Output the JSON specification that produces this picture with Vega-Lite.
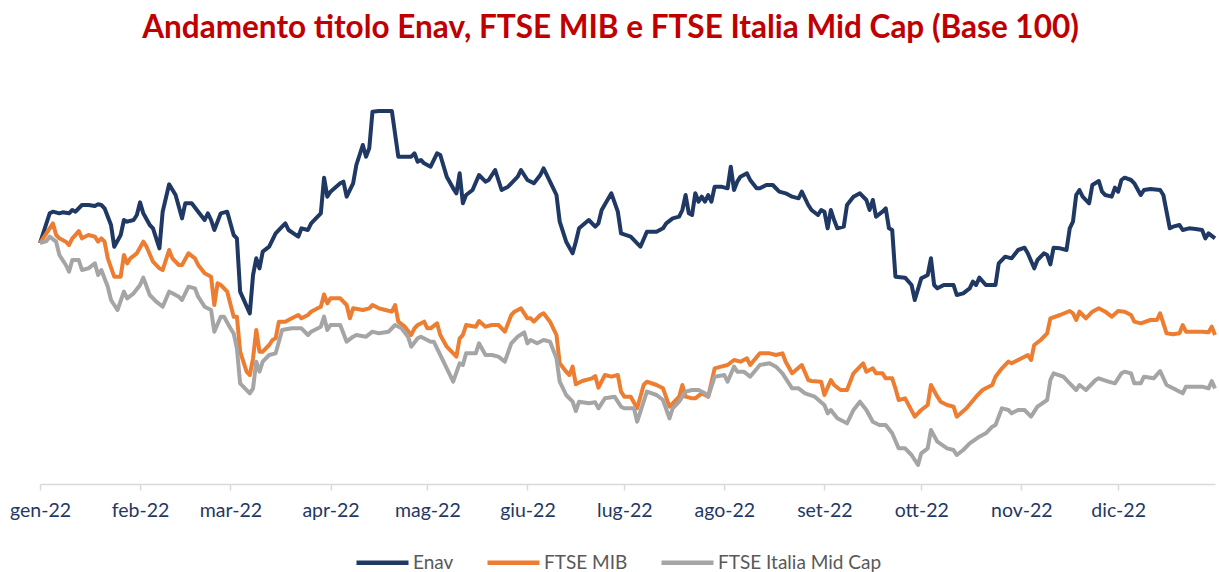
{
  "$schema": "https://vega.github.io/schema/vega-lite/v6.json",
  "width": 1175,
  "height": 390,
  "autosize": {"type": "none"},
  "padding": {"left": 40, "top": 94, "right": 4, "bottom": 88},
  "background": "white",
  "config": {"view": {"stroke": null}},
  "title": {
    "text": "Andamento titolo Enav, FTSE MIB e FTSE Italia Mid Cap (Base 100)",
    "color": "#C00000",
    "font": "Lato",
    "fontSize": 31.5,
    "fontWeight": "bold",
    "anchor": "middle",
    "dx": -17,
    "offset": 50
  },
  "datasets": {
    "enav": [
      {"date":"2022-01-01","value":100},{"date":"2022-01-04","value":104.45},{"date":"2022-01-05","value":104.7},{"date":"2022-01-07","value":104.45},{"date":"2022-01-08","value":104.6},{"date":"2022-01-10","value":104.45},{"date":"2022-01-11","value":104.95},{"date":"2022-01-12","value":104.7},{"date":"2022-01-14","value":105.7},{"date":"2022-01-16","value":105.7},{"date":"2022-01-18","value":105.55},{"date":"2022-01-19","value":105.8},{"date":"2022-01-20","value":105.7},{"date":"2022-01-21","value":105.2},{"date":"2022-01-23","value":102.7},{"date":"2022-01-24","value":99.45},{"date":"2022-01-26","value":101.2},{"date":"2022-01-27","value":103.45},{"date":"2022-01-28","value":103.2},{"date":"2022-01-30","value":103.45},{"date":"2022-01-31","value":104.2},
      {"date":"2022-02-01","value":106.1},{"date":"2022-02-02","value":104.45},{"date":"2022-02-04","value":102.7},{"date":"2022-02-05","value":102.2},{"date":"2022-02-07","value":99.2},{"date":"2022-02-08","value":104.7},{"date":"2022-02-10","value":108.8},{"date":"2022-02-12","value":107.2},{"date":"2022-02-14","value":103.7},{"date":"2022-02-15","value":105.95},{"date":"2022-02-17","value":105.95},{"date":"2022-02-19","value":104.7},{"date":"2022-02-21","value":103.45},{"date":"2022-02-22","value":104.45},{"date":"2022-02-23","value":103.45},{"date":"2022-02-24","value":101.95},{"date":"2022-02-26","value":104.45},{"date":"2022-02-28","value":104.7},
      {"date":"2022-03-02","value":101.2},{"date":"2022-03-03","value":100.7},{"date":"2022-03-04","value":92.7},{"date":"2022-03-07","value":89.45},{"date":"2022-03-08","value":95.2},{"date":"2022-03-09","value":97.7},{"date":"2022-03-10","value":96.2},{"date":"2022-03-11","value":98.7},{"date":"2022-03-13","value":99.45},{"date":"2022-03-15","value":101.45},{"date":"2022-03-17","value":102.45},{"date":"2022-03-18","value":102.95},{"date":"2022-03-19","value":101.95},{"date":"2022-03-22","value":100.95},{"date":"2022-03-23","value":102.2},{"date":"2022-03-25","value":101.95},{"date":"2022-03-26","value":102.95},{"date":"2022-03-28","value":103.95},{"date":"2022-03-29","value":104.45},{"date":"2022-03-30","value":109.8},{"date":"2022-03-31","value":106.95},
      {"date":"2022-04-01","value":107.7},{"date":"2022-04-04","value":108.95},{"date":"2022-04-05","value":109.2},{"date":"2022-04-06","value":106.95},{"date":"2022-04-08","value":108.95},{"date":"2022-04-09","value":111.7},{"date":"2022-04-11","value":114.7},{"date":"2022-04-12","value":112.95},{"date":"2022-04-13","value":114.2},{"date":"2022-04-14","value":119.7},{"date":"2022-04-16","value":119.8},{"date":"2022-04-20","value":119.8},{"date":"2022-04-22","value":112.95},{"date":"2022-04-24","value":112.95},{"date":"2022-04-26","value":112.95},{"date":"2022-04-27","value":113.45},{"date":"2022-04-28","value":112.2},{"date":"2022-04-29","value":112.45},{"date":"2022-04-30","value":111.95},
      {"date":"2022-05-02","value":111.45},{"date":"2022-05-04","value":113.45},{"date":"2022-05-05","value":113.2},{"date":"2022-05-07","value":109.95},{"date":"2022-05-09","value":108.2},{"date":"2022-05-10","value":107.45},{"date":"2022-05-11","value":110.45},{"date":"2022-05-12","value":105.95},{"date":"2022-05-13","value":107.2},{"date":"2022-05-15","value":107.95},{"date":"2022-05-17","value":110.2},{"date":"2022-05-19","value":109.2},{"date":"2022-05-20","value":109.45},{"date":"2022-05-22","value":110.95},{"date":"2022-05-24","value":107.95},{"date":"2022-05-26","value":108.45},{"date":"2022-05-27","value":108.95},{"date":"2022-05-29","value":109.95},{"date":"2022-05-30","value":110.95},
      {"date":"2022-06-01","value":109.45},{"date":"2022-06-03","value":108.95},{"date":"2022-06-05","value":110.2},{"date":"2022-06-06","value":111.2},{"date":"2022-06-08","value":109.2},{"date":"2022-06-10","value":107.2},{"date":"2022-06-11","value":103.2},{"date":"2022-06-13","value":100.2},{"date":"2022-06-15","value":98.45},{"date":"2022-06-16","value":100.2},{"date":"2022-06-17","value":102.2},{"date":"2022-06-20","value":103.45},{"date":"2022-06-22","value":102.45},{"date":"2022-06-23","value":102.95},{"date":"2022-06-24","value":104.95},{"date":"2022-06-27","value":107.45},{"date":"2022-06-29","value":104.7},{"date":"2022-06-30","value":101.45},
      {"date":"2022-07-03","value":100.95},{"date":"2022-07-05","value":99.95},{"date":"2022-07-06","value":99.45},{"date":"2022-07-08","value":101.7},{"date":"2022-07-11","value":101.7},{"date":"2022-07-13","value":102.2},{"date":"2022-07-14","value":102.95},{"date":"2022-07-16","value":103.7},{"date":"2022-07-18","value":103.95},{"date":"2022-07-19","value":104.95},{"date":"2022-07-20","value":107.2},{"date":"2022-07-21","value":104.45},{"date":"2022-07-22","value":104.2},{"date":"2022-07-23","value":107.45},{"date":"2022-07-24","value":106.2},{"date":"2022-07-25","value":106.95},{"date":"2022-07-26","value":106.2},{"date":"2022-07-27","value":107.2},{"date":"2022-07-28","value":106.2},{"date":"2022-07-29","value":108.45},{"date":"2022-07-31","value":108.45},
      {"date":"2022-08-02","value":108.2},{"date":"2022-08-03","value":111.45},{"date":"2022-08-04","value":107.95},{"date":"2022-08-05","value":109.2},{"date":"2022-08-06","value":109.95},{"date":"2022-08-08","value":110.45},{"date":"2022-08-09","value":109.45},{"date":"2022-08-11","value":108.2},{"date":"2022-08-12","value":108.2},{"date":"2022-08-14","value":108.7},{"date":"2022-08-16","value":108.7},{"date":"2022-08-18","value":107.7},{"date":"2022-08-20","value":107.45},{"date":"2022-08-22","value":106.95},{"date":"2022-08-24","value":106.7},{"date":"2022-08-25","value":107.7},{"date":"2022-08-27","value":105.7},{"date":"2022-08-28","value":104.95},{"date":"2022-08-30","value":104.2},{"date":"2022-08-31","value":104.95},
      {"date":"2022-09-01","value":104.7},{"date":"2022-09-02","value":102.2},{"date":"2022-09-03","value":104.95},{"date":"2022-09-04","value":103.45},{"date":"2022-09-05","value":102.2},{"date":"2022-09-07","value":102.45},{"date":"2022-09-08","value":105.7},{"date":"2022-09-10","value":106.95},{"date":"2022-09-12","value":107.45},{"date":"2022-09-14","value":106.45},{"date":"2022-09-15","value":104.95},{"date":"2022-09-16","value":106.45},{"date":"2022-09-17","value":103.95},{"date":"2022-09-19","value":104.7},{"date":"2022-09-20","value":105.2},{"date":"2022-09-21","value":102.2},{"date":"2022-09-22","value":101.95},{"date":"2022-09-23","value":94.95},{"date":"2022-09-26","value":94.8},{"date":"2022-09-28","value":93.7},{"date":"2022-09-29","value":91.45},
      {"date":"2022-10-01","value":94.7},{"date":"2022-10-02","value":94.95},{"date":"2022-10-03","value":95.2},{"date":"2022-10-04","value":97.7},{"date":"2022-10-05","value":93.7},{"date":"2022-10-06","value":93.2},{"date":"2022-10-08","value":93.7},{"date":"2022-10-11","value":93.7},{"date":"2022-10-12","value":92.2},{"date":"2022-10-14","value":92.45},{"date":"2022-10-16","value":93.2},{"date":"2022-10-17","value":94.2},{"date":"2022-10-18","value":93.7},{"date":"2022-10-19","value":94.8},{"date":"2022-10-21","value":93.7},{"date":"2022-10-24","value":93.7},{"date":"2022-10-25","value":96.95},{"date":"2022-10-27","value":97.95},{"date":"2022-10-29","value":97.7},{"date":"2022-10-31","value":98.95},
      {"date":"2022-11-02","value":99.3},{"date":"2022-11-03","value":98.45},{"date":"2022-11-05","value":96.2},{"date":"2022-11-06","value":97.45},{"date":"2022-11-08","value":98.45},{"date":"2022-11-09","value":98.2},{"date":"2022-11-10","value":96.8},{"date":"2022-11-11","value":99.3},{"date":"2022-11-13","value":99.2},{"date":"2022-11-15","value":98.95},{"date":"2022-11-16","value":102.2},{"date":"2022-11-17","value":103.2},{"date":"2022-11-18","value":107.2},{"date":"2022-11-19","value":107.95},{"date":"2022-11-20","value":106.95},{"date":"2022-11-22","value":105.95},{"date":"2022-11-23","value":108.7},{"date":"2022-11-25","value":109.3},{"date":"2022-11-26","value":107.7},{"date":"2022-11-27","value":107.2},{"date":"2022-11-29","value":106.95},{"date":"2022-11-30","value":108.3},
      {"date":"2022-12-01","value":107.7},{"date":"2022-12-02","value":109.45},{"date":"2022-12-03","value":109.8},{"date":"2022-12-05","value":109.45},{"date":"2022-12-06","value":108.95},{"date":"2022-12-08","value":107.2},{"date":"2022-12-09","value":107.95},{"date":"2022-12-11","value":108.1},{"date":"2022-12-14","value":107.95},{"date":"2022-12-15","value":107.2},{"date":"2022-12-17","value":102.2},{"date":"2022-12-18","value":102.45},{"date":"2022-12-20","value":102.7},{"date":"2022-12-21","value":101.95},{"date":"2022-12-23","value":102.2},{"date":"2022-12-25","value":102.1},{"date":"2022-12-27","value":101.95},{"date":"2022-12-28","value":100.7},{"date":"2022-12-29","value":101.45},{"date":"2022-12-31","value":100.7}
    ],
    "mib": [
      {"date":"2022-01-01","value":100},{"date":"2022-01-03","value":101.45},{"date":"2022-01-05","value":102.95},{"date":"2022-01-06","value":101.2},{"date":"2022-01-07","value":100.7},{"date":"2022-01-09","value":100.2},{"date":"2022-01-10","value":99.7},{"date":"2022-01-11","value":100.7},{"date":"2022-01-12","value":101.2},{"date":"2022-01-13","value":101.8},{"date":"2022-01-14","value":100.7},{"date":"2022-01-16","value":101.2},{"date":"2022-01-18","value":100.95},{"date":"2022-01-19","value":100.2},{"date":"2022-01-20","value":100.7},{"date":"2022-01-21","value":100.2},{"date":"2022-01-22","value":97.7},{"date":"2022-01-24","value":94.95},{"date":"2022-01-26","value":94.95},{"date":"2022-01-27","value":98.2},{"date":"2022-01-28","value":96.95},{"date":"2022-01-29","value":97.7},{"date":"2022-01-31","value":98.45},
      {"date":"2022-02-02","value":100.2},{"date":"2022-02-03","value":99.45},{"date":"2022-02-05","value":97.2},{"date":"2022-02-07","value":96.2},{"date":"2022-02-08","value":95.95},{"date":"2022-02-10","value":98.95},{"date":"2022-02-11","value":97.7},{"date":"2022-02-13","value":96.7},{"date":"2022-02-14","value":96.7},{"date":"2022-02-16","value":98.45},{"date":"2022-02-18","value":97.7},{"date":"2022-02-19","value":96.7},{"date":"2022-02-21","value":95.45},{"date":"2022-02-23","value":94.95},{"date":"2022-02-24","value":90.7},{"date":"2022-02-25","value":93.95},{"date":"2022-02-26","value":93.7},{"date":"2022-02-28","value":92.7},
      {"date":"2022-03-02","value":88.95},{"date":"2022-03-03","value":88.95},{"date":"2022-03-04","value":83.7},{"date":"2022-03-06","value":80.7},{"date":"2022-03-07","value":80.2},{"date":"2022-03-08","value":82.7},{"date":"2022-03-09","value":86.95},{"date":"2022-03-10","value":83.7},{"date":"2022-03-11","value":83.7},{"date":"2022-03-13","value":84.7},{"date":"2022-03-14","value":85.45},{"date":"2022-03-15","value":85.7},{"date":"2022-03-16","value":88.2},{"date":"2022-03-18","value":88.2},{"date":"2022-03-20","value":88.7},{"date":"2022-03-22","value":89.2},{"date":"2022-03-23","value":88.7},{"date":"2022-03-25","value":89.2},{"date":"2022-03-26","value":89.7},{"date":"2022-03-28","value":90.2},{"date":"2022-03-29","value":90.45},{"date":"2022-03-30","value":92.3},{"date":"2022-03-31","value":90.95},
      {"date":"2022-04-01","value":91.7},{"date":"2022-04-04","value":91.7},{"date":"2022-04-06","value":90.7},{"date":"2022-04-07","value":88.7},{"date":"2022-04-08","value":90.2},{"date":"2022-04-11","value":89.95},{"date":"2022-04-13","value":90.2},{"date":"2022-04-14","value":90.7},{"date":"2022-04-16","value":90.2},{"date":"2022-04-18","value":89.95},{"date":"2022-04-20","value":89.7},{"date":"2022-04-21","value":90.7},{"date":"2022-04-22","value":88.2},{"date":"2022-04-24","value":87.45},{"date":"2022-04-26","value":86.2},{"date":"2022-04-27","value":87.2},{"date":"2022-04-28","value":87.7},{"date":"2022-04-30","value":88.2},
      {"date":"2022-05-01","value":87.2},{"date":"2022-05-02","value":87.2},{"date":"2022-05-04","value":87.95},{"date":"2022-05-05","value":86.2},{"date":"2022-05-07","value":84.45},{"date":"2022-05-10","value":82.95},{"date":"2022-05-11","value":85.7},{"date":"2022-05-12","value":86.2},{"date":"2022-05-13","value":87.7},{"date":"2022-05-16","value":87.45},{"date":"2022-05-17","value":88.3},{"date":"2022-05-19","value":87.45},{"date":"2022-05-21","value":87.7},{"date":"2022-05-23","value":87.7},{"date":"2022-05-25","value":86.7},{"date":"2022-05-27","value":89.2},{"date":"2022-05-28","value":89.7},{"date":"2022-05-30","value":90.2},
      {"date":"2022-06-01","value":88.7},{"date":"2022-06-02","value":88.7},{"date":"2022-06-03","value":88.2},{"date":"2022-06-05","value":89.2},{"date":"2022-06-06","value":89.45},{"date":"2022-06-08","value":88.2},{"date":"2022-06-10","value":86.2},{"date":"2022-06-11","value":81.95},{"date":"2022-06-13","value":80.7},{"date":"2022-06-14","value":80.2},{"date":"2022-06-15","value":81.45},{"date":"2022-06-16","value":78.8},{"date":"2022-06-18","value":79.3},{"date":"2022-06-21","value":79.7},{"date":"2022-06-22","value":80.05},{"date":"2022-06-23","value":78.3},{"date":"2022-06-25","value":80.2},{"date":"2022-06-27","value":79.95},{"date":"2022-06-29","value":80.2},{"date":"2022-06-30","value":77.7},
      {"date":"2022-07-01","value":76.95},{"date":"2022-07-03","value":76.95},{"date":"2022-07-05","value":75.2},{"date":"2022-07-07","value":78.7},{"date":"2022-07-08","value":79.2},{"date":"2022-07-11","value":78.7},{"date":"2022-07-13","value":78.2},{"date":"2022-07-15","value":75.45},{"date":"2022-07-16","value":75.95},{"date":"2022-07-18","value":76.95},{"date":"2022-07-19","value":78.7},{"date":"2022-07-20","value":76.95},{"date":"2022-07-22","value":76.7},{"date":"2022-07-23","value":76.7},{"date":"2022-07-25","value":77.45},{"date":"2022-07-27","value":76.95},{"date":"2022-07-29","value":81.2},{"date":"2022-07-31","value":81.45},
      {"date":"2022-08-02","value":81.7},{"date":"2022-08-04","value":82.45},{"date":"2022-08-06","value":82.2},{"date":"2022-08-08","value":82.7},{"date":"2022-08-09","value":81.7},{"date":"2022-08-12","value":83.45},{"date":"2022-08-15","value":83.45},{"date":"2022-08-17","value":83.2},{"date":"2022-08-19","value":83.45},{"date":"2022-08-20","value":82.2},{"date":"2022-08-22","value":80.45},{"date":"2022-08-25","value":81.7},{"date":"2022-08-27","value":79.45},{"date":"2022-08-28","value":79.3},{"date":"2022-08-31","value":79.2},
      {"date":"2022-09-01","value":77.2},{"date":"2022-09-03","value":79.45},{"date":"2022-09-04","value":78.7},{"date":"2022-09-06","value":77.95},{"date":"2022-09-08","value":77.95},{"date":"2022-09-10","value":80.45},{"date":"2022-09-13","value":81.95},{"date":"2022-09-14","value":80.7},{"date":"2022-09-16","value":81.2},{"date":"2022-09-17","value":80.45},{"date":"2022-09-19","value":80.45},{"date":"2022-09-20","value":79.7},{"date":"2022-09-22","value":79.7},{"date":"2022-09-23","value":78.2},{"date":"2022-09-24","value":76.45},{"date":"2022-09-26","value":76.7},{"date":"2022-09-29","value":73.95},
      {"date":"2022-10-01","value":74.95},{"date":"2022-10-03","value":75.7},{"date":"2022-10-04","value":78.7},{"date":"2022-10-06","value":76.95},{"date":"2022-10-07","value":76.2},{"date":"2022-10-09","value":75.7},{"date":"2022-10-11","value":75.45},{"date":"2022-10-12","value":73.95},{"date":"2022-10-15","value":75.2},{"date":"2022-10-18","value":76.95},{"date":"2022-10-20","value":77.95},{"date":"2022-10-21","value":78.2},{"date":"2022-10-23","value":78.7},{"date":"2022-10-24","value":79.95},{"date":"2022-10-26","value":81.2},{"date":"2022-10-28","value":82.2},{"date":"2022-10-29","value":81.95},{"date":"2022-10-31","value":82.45},
      {"date":"2022-11-02","value":82.95},{"date":"2022-11-03","value":83.2},{"date":"2022-11-04","value":82.45},{"date":"2022-11-05","value":84.7},{"date":"2022-11-07","value":85.45},{"date":"2022-11-09","value":86.45},{"date":"2022-11-10","value":88.7},{"date":"2022-11-13","value":89.2},{"date":"2022-11-16","value":89.8},{"date":"2022-11-17","value":89.45},{"date":"2022-11-18","value":88.45},{"date":"2022-11-19","value":89.7},{"date":"2022-11-20","value":89.2},{"date":"2022-11-21","value":88.7},{"date":"2022-11-23","value":89.7},{"date":"2022-11-25","value":90.2},{"date":"2022-11-27","value":89.7},{"date":"2022-11-29","value":88.95},
      {"date":"2022-12-01","value":89.8},{"date":"2022-12-03","value":89.7},{"date":"2022-12-05","value":89.2},{"date":"2022-12-06","value":88.2},{"date":"2022-12-08","value":87.95},{"date":"2022-12-11","value":88.45},{"date":"2022-12-13","value":88.45},{"date":"2022-12-14","value":89.45},{"date":"2022-12-16","value":86.45},{"date":"2022-12-18","value":86.3},{"date":"2022-12-20","value":86.45},{"date":"2022-12-21","value":87.7},{"date":"2022-12-22","value":86.7},{"date":"2022-12-24","value":86.7},{"date":"2022-12-27","value":86.7},{"date":"2022-12-29","value":86.6},{"date":"2022-12-30","value":87.45},{"date":"2022-12-31","value":86.2}
    ],
    "mid": [
      {"date":"2022-01-01","value":100},{"date":"2022-01-03","value":100.3},{"date":"2022-01-04","value":100.95},{"date":"2022-01-06","value":100.2},{"date":"2022-01-07","value":98.2},{"date":"2022-01-09","value":96.7},{"date":"2022-01-10","value":95.7},{"date":"2022-01-11","value":97.45},{"date":"2022-01-13","value":97.45},{"date":"2022-01-14","value":95.95},{"date":"2022-01-16","value":96.2},{"date":"2022-01-18","value":96.95},{"date":"2022-01-19","value":95.2},{"date":"2022-01-20","value":95.95},{"date":"2022-01-22","value":93.45},{"date":"2022-01-23","value":91.45},{"date":"2022-01-25","value":89.95},{"date":"2022-01-27","value":92.7},{"date":"2022-01-28","value":91.7},{"date":"2022-01-30","value":92.45},
      {"date":"2022-02-01","value":93.7},{"date":"2022-02-02","value":94.8},{"date":"2022-02-04","value":92.2},{"date":"2022-02-06","value":91.2},{"date":"2022-02-08","value":90.45},{"date":"2022-02-10","value":92.7},{"date":"2022-02-11","value":92.45},{"date":"2022-02-13","value":91.95},{"date":"2022-02-14","value":91.45},{"date":"2022-02-16","value":93.45},{"date":"2022-02-18","value":93.2},{"date":"2022-02-19","value":91.95},{"date":"2022-02-21","value":90.45},{"date":"2022-02-23","value":89.95},{"date":"2022-02-24","value":86.7},{"date":"2022-02-26","value":88.95},{"date":"2022-02-27","value":88.95},
      {"date":"2022-03-01","value":87.2},{"date":"2022-03-02","value":86.45},{"date":"2022-03-03","value":84.2},{"date":"2022-03-04","value":78.95},{"date":"2022-03-07","value":77.45},{"date":"2022-03-08","value":78.2},{"date":"2022-03-09","value":82.2},{"date":"2022-03-10","value":80.7},{"date":"2022-03-11","value":82.2},{"date":"2022-03-13","value":83.2},{"date":"2022-03-15","value":83.45},{"date":"2022-03-16","value":85.2},{"date":"2022-03-17","value":86.95},{"date":"2022-03-20","value":87.2},{"date":"2022-03-22","value":87.2},{"date":"2022-03-23","value":87.2},{"date":"2022-03-25","value":86.2},{"date":"2022-03-26","value":86.7},{"date":"2022-03-29","value":87.45},{"date":"2022-03-30","value":88.95},{"date":"2022-03-31","value":86.95},
      {"date":"2022-04-01","value":87.7},{"date":"2022-04-04","value":87.7},{"date":"2022-04-06","value":85.2},{"date":"2022-04-08","value":85.95},{"date":"2022-04-09","value":86.2},{"date":"2022-04-12","value":85.95},{"date":"2022-04-14","value":86.7},{"date":"2022-04-16","value":86.45},{"date":"2022-04-19","value":86.7},{"date":"2022-04-21","value":87.7},{"date":"2022-04-23","value":87.2},{"date":"2022-04-25","value":85.95},{"date":"2022-04-26","value":84.45},{"date":"2022-04-28","value":85.7},{"date":"2022-04-29","value":85.95},
      {"date":"2022-05-02","value":85.2},{"date":"2022-05-03","value":85.2},{"date":"2022-05-04","value":84.2},{"date":"2022-05-06","value":82.2},{"date":"2022-05-09","value":79.2},{"date":"2022-05-11","value":81.95},{"date":"2022-05-12","value":81.7},{"date":"2022-05-13","value":83.45},{"date":"2022-05-16","value":83.45},{"date":"2022-05-17","value":84.95},{"date":"2022-05-19","value":83.2},{"date":"2022-05-21","value":83.2},{"date":"2022-05-23","value":82.95},{"date":"2022-05-25","value":82.2},{"date":"2022-05-27","value":84.95},{"date":"2022-05-29","value":85.95},{"date":"2022-05-31","value":86.6},
      {"date":"2022-06-01","value":84.95},{"date":"2022-06-02","value":85.45},{"date":"2022-06-04","value":84.95},{"date":"2022-06-06","value":85.45},{"date":"2022-06-08","value":85.2},{"date":"2022-06-10","value":82.7},{"date":"2022-06-11","value":79.2},{"date":"2022-06-13","value":77.2},{"date":"2022-06-15","value":76.2},{"date":"2022-06-16","value":74.8},{"date":"2022-06-17","value":76.2},{"date":"2022-06-20","value":75.95},{"date":"2022-06-22","value":76.1},{"date":"2022-06-23","value":75.2},{"date":"2022-06-25","value":76.7},{"date":"2022-06-28","value":76.95},{"date":"2022-06-30","value":75.45},
      {"date":"2022-07-01","value":75.2},{"date":"2022-07-04","value":75.2},{"date":"2022-07-05","value":73.2},{"date":"2022-07-08","value":77.7},{"date":"2022-07-11","value":77.2},{"date":"2022-07-13","value":76.45},{"date":"2022-07-15","value":73.7},{"date":"2022-07-16","value":75.2},{"date":"2022-07-18","value":76.2},{"date":"2022-07-20","value":77.7},{"date":"2022-07-22","value":77.95},{"date":"2022-07-24","value":77.95},{"date":"2022-07-26","value":77.45},{"date":"2022-07-27","value":76.95},{"date":"2022-07-29","value":79.95},
      {"date":"2022-08-01","value":80.2},{"date":"2022-08-02","value":79.2},{"date":"2022-08-04","value":81.45},{"date":"2022-08-05","value":80.7},{"date":"2022-08-07","value":80.7},{"date":"2022-08-09","value":79.95},{"date":"2022-08-12","value":81.7},{"date":"2022-08-15","value":81.95},{"date":"2022-08-17","value":81.45},{"date":"2022-08-19","value":80.45},{"date":"2022-08-22","value":78.2},{"date":"2022-08-24","value":78.2},{"date":"2022-08-26","value":77.45},{"date":"2022-08-29","value":76.95},
      {"date":"2022-09-01","value":75.7},{"date":"2022-09-02","value":74.45},{"date":"2022-09-03","value":74.95},{"date":"2022-09-05","value":73.7},{"date":"2022-09-08","value":72.95},{"date":"2022-09-10","value":74.95},{"date":"2022-09-12","value":76.2},{"date":"2022-09-14","value":74.95},{"date":"2022-09-16","value":73.2},{"date":"2022-09-18","value":72.7},{"date":"2022-09-20","value":72.7},{"date":"2022-09-22","value":71.45},{"date":"2022-09-24","value":69.2},{"date":"2022-09-26","value":69.2},{"date":"2022-09-28","value":68.2},{"date":"2022-09-30","value":66.7},
      {"date":"2022-10-01","value":68.45},{"date":"2022-10-03","value":69.2},{"date":"2022-10-04","value":71.95},{"date":"2022-10-06","value":70.2},{"date":"2022-10-09","value":69.2},{"date":"2022-10-11","value":68.95},{"date":"2022-10-12","value":68.2},{"date":"2022-10-14","value":68.95},{"date":"2022-10-16","value":69.95},{"date":"2022-10-19","value":70.95},{"date":"2022-10-21","value":71.45},{"date":"2022-10-23","value":72.45},{"date":"2022-10-24","value":72.7},{"date":"2022-10-26","value":75.2},{"date":"2022-10-28","value":74.95},{"date":"2022-10-29","value":74.45},{"date":"2022-10-31","value":74.95},
      {"date":"2022-11-02","value":74.95},{"date":"2022-11-04","value":73.95},{"date":"2022-11-06","value":75.45},{"date":"2022-11-09","value":76.45},{"date":"2022-11-10","value":79.45},{"date":"2022-11-11","value":80.45},{"date":"2022-11-14","value":79.95},{"date":"2022-11-16","value":78.95},{"date":"2022-11-18","value":77.95},{"date":"2022-11-19","value":78.7},{"date":"2022-11-21","value":77.95},{"date":"2022-11-24","value":79.45},{"date":"2022-11-25","value":79.7},{"date":"2022-11-28","value":79.2},{"date":"2022-11-30","value":78.95},
      {"date":"2022-12-02","value":80.45},{"date":"2022-12-03","value":80.7},{"date":"2022-12-05","value":80.45},{"date":"2022-12-06","value":78.95},{"date":"2022-12-08","value":78.95},{"date":"2022-12-09","value":79.95},{"date":"2022-12-12","value":79.7},{"date":"2022-12-14","value":80.8},{"date":"2022-12-16","value":78.7},{"date":"2022-12-18","value":78.2},{"date":"2022-12-21","value":77.45},{"date":"2022-12-22","value":78.45},{"date":"2022-12-25","value":78.45},{"date":"2022-12-27","value":78.45},{"date":"2022-12-29","value":78.2},{"date":"2022-12-30","value":79.3},{"date":"2022-12-31","value":78.2}
    ]
  },
  "encoding": {
    "x": {
      "field": "date",
      "type": "temporal",
      "scale": {"domain": [{"year": 2022, "month": 1, "date": 1}, {"year": 2022, "month": 12, "date": 31}]},
      "axis": {
        "title": null,
        "grid": false,
        "values": [
          {"year": 2022, "month": 1, "date": 1}, {"year": 2022, "month": 2, "date": 1}, {"year": 2022, "month": 3, "date": 1},
          {"year": 2022, "month": 4, "date": 1}, {"year": 2022, "month": 5, "date": 1}, {"year": 2022, "month": 6, "date": 1},
          {"year": 2022, "month": 7, "date": 1}, {"year": 2022, "month": 8, "date": 1}, {"year": 2022, "month": 9, "date": 1},
          {"year": 2022, "month": 10, "date": 1}, {"year": 2022, "month": 11, "date": 1}, {"year": 2022, "month": 12, "date": 1}
        ],
        "labelExpr": "['gen','feb','mar','apr','mag','giu','lug','ago','set','ott','nov','dic'][month(datum.value)] + '-22'",
        "domainColor": "#D9D9D9",
        "domainWidth": 1.5,
        "tickColor": "#D9D9D9",
        "tickWidth": 1.5,
        "tickSize": 6,
        "labelColor": "#1F3864",
        "labelFont": "Lato",
        "labelFontSize": 19.5,
        "labelPadding": 11,
        "labelFlush": false,
        "labelOverlap": false,
        "labelAlign": "center"
      }
    },
    "y": {
      "field": "value",
      "type": "quantitative",
      "scale": {"domain": [63.85, 122.35], "zero": false, "nice": false},
      "axis": null
    }
  },
  "layer": [
    {
      "data": {"name": "enav"},
      "mark": {"type": "line", "strokeWidth": 4, "strokeJoin": "round"},
      "encoding": {
        "color": {
          "datum": "Enav",
          "type": "nominal",
          "scale": {"domain": ["Enav", "FTSE MIB", "FTSE Italia Mid Cap"], "range": ["#1F3864", "#ED7D31", "#A5A5A5"]},
          "legend": {
            "title": null,
            "orient": "none",
            "legendX": 314,
            "legendY": 440,
            "direction": "horizontal",
            "symbolType": "stroke",
            "symbolStrokeWidth": 4.5,
            "symbolSize": 2704,
            "labelFont": "Lato",
            "labelFontSize": 19,
            "labelColor": "#595959",
            "labelOffset": 2,
            "labelLimit": 400,
            "columnPadding": 24
          }
        }
      }
    },
    {
      "data": {"name": "mib"},
      "mark": {"type": "line", "strokeWidth": 4, "strokeJoin": "round"},
      "encoding": {"color": {"datum": "FTSE MIB", "type": "nominal"}}
    },
    {
      "data": {"name": "mid"},
      "mark": {"type": "line", "strokeWidth": 4, "strokeJoin": "round"},
      "encoding": {"color": {"datum": "FTSE Italia Mid Cap", "type": "nominal"}}
    }
  ]
}
